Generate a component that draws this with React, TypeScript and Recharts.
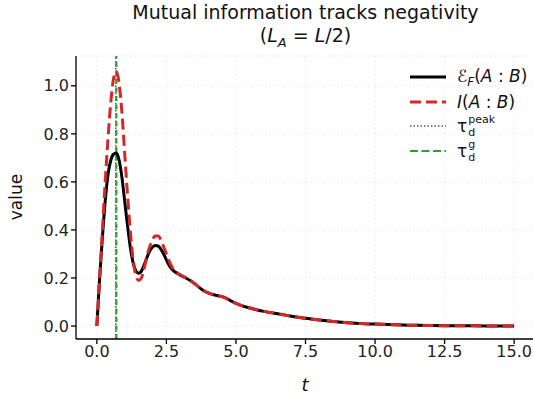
import { LineChart, Line, XAxis, YAxis, CartesianGrid, ReferenceLine } from 'recharts';

// time grid
const T = [
  0, 0.1, 0.2, 0.3, 0.4, 0.5, 0.6, 0.7, 0.8, 0.9, 1.0, 1.1, 1.2, 1.3, 1.4, 1.5, 1.6, 1.7, 1.8, 1.9,
  2.0, 2.1, 2.2, 2.3, 2.4, 2.5, 2.6, 2.7, 2.8, 2.9, 3.0, 3.2, 3.4, 3.6, 3.8, 4.0, 4.2, 4.4, 4.6, 4.8,
  5.0, 5.2, 5.4, 5.6, 5.8, 6.0, 6.5, 7.0, 7.5, 8.0, 8.5, 9.0, 9.5, 10, 10.5, 11, 11.5, 12, 13, 14, 15,
];

// entanglement of formation E_F(A:B)
const EF = [
  0, 0.2, 0.37, 0.52, 0.63, 0.69, 0.715, 0.72, 0.69, 0.62, 0.52, 0.42, 0.33, 0.265, 0.23, 0.22, 0.228, 0.255, 0.285, 0.312,
  0.328, 0.335, 0.333, 0.32, 0.3, 0.275, 0.252, 0.236, 0.226, 0.219, 0.212, 0.2, 0.186, 0.168, 0.15, 0.138, 0.13, 0.125, 0.118, 0.106,
  0.094, 0.085, 0.078, 0.072, 0.066, 0.061, 0.051, 0.041, 0.032, 0.025, 0.019, 0.014, 0.01, 0.008, 0.006, 0.004, 0.003, 0.002, 0.001, 0.0005, 0.0003,
];

// mutual information I(A:B)
const MI = [
  0, 0.2, 0.4, 0.6, 0.78, 0.93, 1.03, 1.06, 1.01, 0.89, 0.72, 0.55, 0.4, 0.28, 0.21, 0.19, 0.2, 0.24, 0.29, 0.33,
  0.36, 0.375, 0.375, 0.36, 0.33, 0.3, 0.27, 0.246, 0.23, 0.221, 0.213, 0.2, 0.186, 0.168, 0.15, 0.138, 0.13, 0.125, 0.118, 0.106,
  0.094, 0.085, 0.078, 0.072, 0.066, 0.061, 0.051, 0.041, 0.032, 0.025, 0.019, 0.014, 0.01, 0.008, 0.006, 0.004, 0.003, 0.002, 0.001, 0.0005, 0.0003,
];

const TAU_PEAK = 0.68;
const TAU_G = 0.7;

const X_TICKS = [0, 2.5, 5, 7.5, 10, 12.5, 15];
const Y_TICKS = [0, 0.2, 0.4, 0.6, 0.8, 1.0];

const data = T.map((t, i) => ({ t, ef: EF[i], mi: MI[i] }));

const FONT = '"DejaVu Sans", sans-serif';
const tick = { fontSize: 16, fill: '#222', fontFamily: FONT };

function Tau({ sup }: { sup: string }) {
  return (
    <span style={{ display: 'inline-flex', alignItems: 'center' }}>
      <span>τ</span>
      <span style={{ display: 'inline-flex', flexDirection: 'column', fontSize: 11, lineHeight: '13px', marginLeft: 1 }}>
        <span>{sup}</span>
        <span>d</span>
      </span>
    </span>
  );
}

function LegendRow({ stroke, dash, width, label }: { stroke: string; dash?: string; width: number; label: React.ReactNode }) {
  return (
    <div style={{ display: 'flex', alignItems: 'center', height: 24.5 }}>
      <svg width={36} height={10} style={{ marginRight: 11 }}>
        <line x1={0} y1={5} x2={36} y2={5} stroke={stroke} strokeWidth={width} strokeDasharray={dash} />
      </svg>
      {label}
    </div>
  );
}

export default function App() {
  return (
    <div style={{ position: 'absolute', top: 0, left: 0, width: 533, height: 400, overflow: 'hidden', background: '#fff', fontFamily: FONT }}>
      <div style={{ position: 'absolute', left: 76, width: 459, top: 1, textAlign: 'center', fontSize: 19, lineHeight: '23px', color: '#111' }}>
        <div>Mutual information tracks negativity</div>
        <div>
          (<i>L</i><sub style={{ fontSize: 13 }}><i>A</i></sub> = <i>L</i>/2)
        </div>
      </div>
      <div
        style={{
          position: 'absolute',
          left: 16,
          top: 197,
          transform: 'translate(-50%, -50%) rotate(-90deg)',
          fontSize: 17,
          color: '#111',
        }}
      >
        value
      </div>
      <div style={{ position: 'absolute', left: 305, top: 384, transform: 'translate(-50%, -50%)', fontSize: 18, fontStyle: 'italic', color: '#111' }}>
        t
      </div>
      <LineChart width={535} height={400} data={data} margin={{ top: 56, right: 0, bottom: 31, left: 0 }}>
        <CartesianGrid stroke="#e6e6e6" strokeDasharray="1.5 3" />
        <XAxis
          dataKey="t"
          type="number"
          domain={[-0.75, 15.75]}
          ticks={X_TICKS}
          tickFormatter={(v) => v.toFixed(1)}
          tick={tick}
          stroke="#000"
          strokeWidth={1.3}
          tickSize={5}
          height={30}
          allowDataOverflow
        />
        <YAxis
          type="number"
          domain={[-0.054, 1.124]}
          ticks={Y_TICKS}
          tickFormatter={(v) => v.toFixed(1)}
          tick={tick}
          stroke="#000"
          strokeWidth={1.3}
          tickSize={5}
          width={76}
          allowDataOverflow
        />
        <ReferenceLine x={TAU_PEAK} stroke="#555" strokeWidth={1.6} strokeDasharray="1.5 2" />
        <ReferenceLine x={TAU_G} stroke="#2ca02c" strokeWidth={2.2} strokeDasharray="5 3.5" />
        <Line dataKey="ef" type="monotone" stroke="#000" strokeWidth={3} dot={false} isAnimationActive={false} />
        <Line dataKey="mi" type="monotone" stroke="#d62728" strokeWidth={3} strokeDasharray="11 5" dot={false} isAnimationActive={false} />
      </LineChart>
      <div style={{ position: 'absolute', left: 410, top: 65, fontSize: 17, color: '#111' }}>
        <LegendRow stroke="#000" width={3} label={<span><i>ℰ</i><sub style={{ fontSize: 12 }}><i>F</i></sub>(<i>A</i> : <i>B</i>)</span>} />
        <LegendRow stroke="#d62728" width={3} dash="11 5" label={<span><i>I</i>(<i>A</i> : <i>B</i>)</span>} />
        <LegendRow stroke="#555" width={1.6} dash="1.5 2" label={<Tau sup="peak" />} />
        <LegendRow stroke="#2ca02c" width={2.2} dash="8 3.5" label={<Tau sup="g" />} />
      </div>
    </div>
  );
}
